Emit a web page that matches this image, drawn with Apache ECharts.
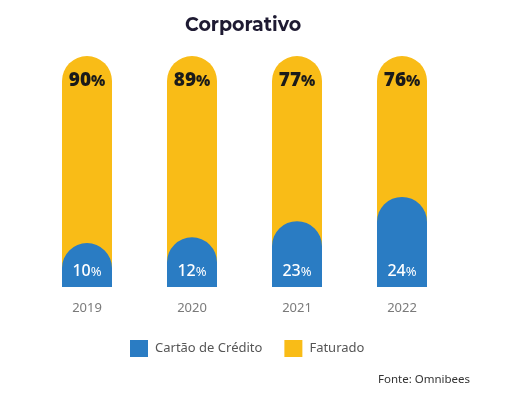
<!DOCTYPE html>
<html><head><meta charset="utf-8">
<script src="https://cdn.jsdelivr.net/npm/echarts@6/dist/echarts.min.js"></script>
<style>html,body{margin:0;padding:0;background:#fff}#c{width:508px;height:397px}</style>
</head><body><div id="c"></div>
<script>
const years = ['2019', '2020', '2021', '2022'];
const cartaoPct = [10, 12, 23, 24];      // labels on blue bars
const faturadoPct = [90, 89, 77, 76];    // labels on yellow bars
const cartaoBarHeight = [19, 21.5, 28.5, 39]; // blue bar heights (% of full bar)
const faturadoBarHeight = [100, 100, 100, 100];

const BLUE = '#2a7cc3', YELLOW = '#f9bc17';
const chart = echarts.init(document.getElementById('c'));
chart.setOption({
  animation: false,
  title: {
    text: 'Corporativo', left: 180, top: 11, 
    textStyle: { fontFamily: 'Montserrat, "Noto Sans", sans-serif', fontSize: 19, fontWeight: 'bold', color: '#1e1a32' }
  },
  grid: { left: 34.5, right: 53.5, top: 56, bottom: 110 },
  xAxis: {
    type: 'category', data: years,
    axisLine: { show: false }, axisTick: { show: false },
    axisLabel: { margin: 15, fontFamily: '"Noto Sans", sans-serif', fontSize: 13, color: '#7a7a7a' }
  },
  yAxis: { type: 'value', min: 0, max: 100, show: false, splitLine: { show: false } },
  legend: {
    left: 125, top: 335, itemWidth: 18, itemHeight: 17, itemGap: 22,
    icon: 'rect',
    textStyle: { fontFamily: '"Noto Sans", sans-serif', fontSize: 13, color: '#555', padding: [0, 0, 0, 2] },
    data: ['Cartão de Crédito', 'Faturado']
  },
  graphic: [{
    type: 'text', left: 378, top: 374,
    style: { text: 'Fonte: Omnibees', fontFamily: '"Noto Sans", sans-serif', fontSize: 11.5, fill: '#333' }
  }],
  series: [
    {
      name: 'Faturado', type: 'bar', barWidth: 50, barGap: '-100%', z: 1,
      data: faturadoBarHeight,
      itemStyle: { color: YELLOW, borderRadius: [25, 25, 0, 0] },
      label: {
        show: true, position: 'insideTop', distance: 15,
        formatter: p => '{n|' + faturadoPct[p.dataIndex] + '}{p|%}',
        rich: {
          n: { fontFamily: '"Noto Sans", sans-serif', fontSize: 19, fontWeight: 900, color: '#1a1a1a' },
          p: { fontFamily: '"Noto Sans", sans-serif', fontSize: 15, fontWeight: 900, color: '#1a1a1a', padding: [2, 0, 0, 0] }
        }
      }
    },
    {
      name: 'Cartão de Crédito', type: 'bar', barWidth: 50, barGap: '-100%', z: 2,
      data: cartaoBarHeight,
      itemStyle: { color: BLUE, borderRadius: [25, 25, 0, 0] },
      label: {
        show: true, position: 'insideBottom', distance: 8,
        formatter: p => '{n|' + cartaoPct[p.dataIndex] + '}{p|%}',
        rich: {
          n: { fontFamily: '"Noto Sans", sans-serif', fontSize: 16, fontWeight: 500, color: '#fff' },
          p: { fontFamily: '"Noto Sans", sans-serif', fontSize: 13, color: '#fff', padding: [2, 0, 0, 0] }
        }
      }
    }
  ]
});
</script></body></html>
